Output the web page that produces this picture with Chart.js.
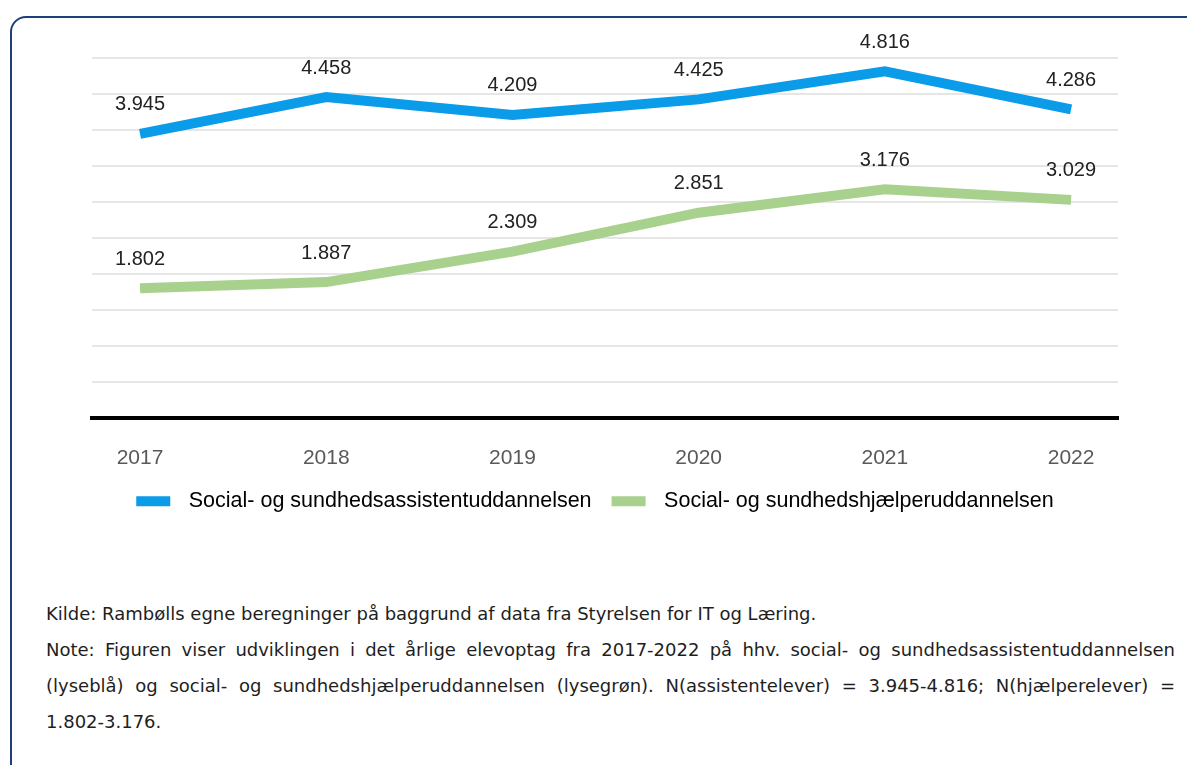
<!DOCTYPE html>
<html>
<head>
<meta charset="utf-8">
<script src="https://cdn.jsdelivr.net/npm/chart.js@4"></script>
<style>
  html, body { margin: 0; padding: 0; background: #fff; }
  body { width: 1187px; height: 765px; position: relative; overflow: hidden; }
  #frame {
    position: absolute; left: 10px; top: 16px; width: 1200px; height: 800px;
    border: 2px solid #1d3f7a; border-radius: 16px; box-sizing: border-box;
  }
  #wrap { position: absolute; left: 0; top: 0; width: 1187px; height: 522px; }
  #note {
    position: absolute; left: 46px; top: 596px; width: 1129px;
    font-family: "DejaVu Sans", Verdana, sans-serif; font-size: 18px;
    line-height: 36px; color: #1e1e1e;
  }
  #note span { display: block; white-space: nowrap; }
  #note .j { text-align: justify; text-align-last: justify; }
</style>
</head>
<body>
<div id="frame"></div>
<div id="wrap"><canvas id="chart"></canvas></div>
<div id="note">
  <span>Kilde: Rambølls egne beregninger på baggrund af data fra Styrelsen for IT og Læring.</span>
  <span class="j">Note: Figuren viser udviklingen i det årlige elevoptag fra 2017-2022 på hhv. social- og sundhedsassistentuddannelsen</span>
  <span class="j">(lyseblå) og social- og sundhedshjælperuddannelsen (lysegrøn). N(assistentelever) = 3.945-4.816; N(hjælperelever) =</span>
  <span>1.802-3.176.</span>
</div>
<script>
// data
const years = [2017, 2018, 2019, 2020, 2021, 2022];
const assistent = [3945, 4458, 4209, 4425, 4816, 4286];
const hjaelper = [1802, 1887, 2309, 2851, 3176, 3029];
const yTicks = { min: 0, max: 5000, step: 500 };

const BLUE = '#0a9be9';
const GREEN = '#a9d18e';
const FONT = '"Liberation Sans", Arial, sans-serif';

function fmt(v) {
    return String(v).replace(/\B(?=(\d{3})+(?!\d))/g, '.');
}

// tal over hvert punkt
const valueLabels = {
    id: 'valueLabels',
    afterDatasetsDraw(chart) {
        const ctx = chart.ctx;
        ctx.save();
        ctx.font = '20px ' + FONT;
        ctx.fillStyle = '#222';
        ctx.textAlign = 'center';
        ctx.textBaseline = 'middle';
        chart.data.datasets.forEach(function(ds, i) {
            chart.getDatasetMeta(i).data.forEach(function(pt, j) {
                ctx.fillText(fmt(ds.data[j].y), pt.x, pt.y - 29);
            });
        });
        ctx.restore();
    }
};

const toPoints = arr => arr.map((v, i) => ({ x: years[i], y: v }));

new Chart(document.getElementById('chart'), {
    type: 'line',
    data: {
        datasets: [{
            label: 'Social- og sundhedsassistentuddannelsen',
            data: toPoints(assistent),
            borderColor: BLUE,
            backgroundColor: BLUE,
            borderWidth: 10,
            pointRadius: 0,
            tension: 0,
            borderCapStyle: 'butt'
        }, {
            label: 'Social- og sundhedshjælperuddannelsen',
            data: toPoints(hjaelper),
            borderColor: GREEN,
            backgroundColor: GREEN,
            borderWidth: 10,
            pointRadius: 0,
            tension: 0,
            borderCapStyle: 'butt'
        }]
    },
    options: {
        responsive: true,
        maintainAspectRatio: false,
        animation: false,
        layout: { padding: { left: 72, right: 69, top: 58, bottom: 0 } },
        plugins: {
            tooltip: { enabled: false },
            legend: {
                position: 'bottom',
                labels: {
                    boxWidth: 34,
                    boxHeight: 10,
                    padding: 20,
                    color: '#222',
                    font: { family: FONT, size: 21.5 },
                    generateLabels(chart) {
                        return chart.data.datasets.map((ds, i) => ({
                            text: ' \u200A' + ds.label,
                            fillStyle: ds.borderColor,
                            strokeStyle: ds.borderColor,
                            lineWidth: 0,
                            datasetIndex: i
                        }));
                    }
                }
            }
        },
        scales: {
            x: {
                type: 'linear',
                min: 2016.742,
                max: 2022.252,
                grid: { display: false, drawTicks: false },
                border: { display: true, color: '#000', width: 4 },
                afterBuildTicks: scale => { scale.ticks = years.map(y => ({ value: y })); },
                afterFit: scale => { scale.height = 52.6; },
                ticks: {
                    padding: 27.4,
                    color: '#595959',
                    font: { family: FONT, size: 21 },
                    callback: v => String(v)
                }
            },
            y: {
                min: yTicks.min,
                max: yTicks.max,
                border: { display: false },
                grid: { color: '#e6e6e6', lineWidth: 2, drawTicks: false },
                afterFit: scale => { scale.width = 20; },
                ticks: { display: false, stepSize: yTicks.step }
            }
        }
    },
    plugins: [valueLabels]
});
</script>
</body>
</html>
